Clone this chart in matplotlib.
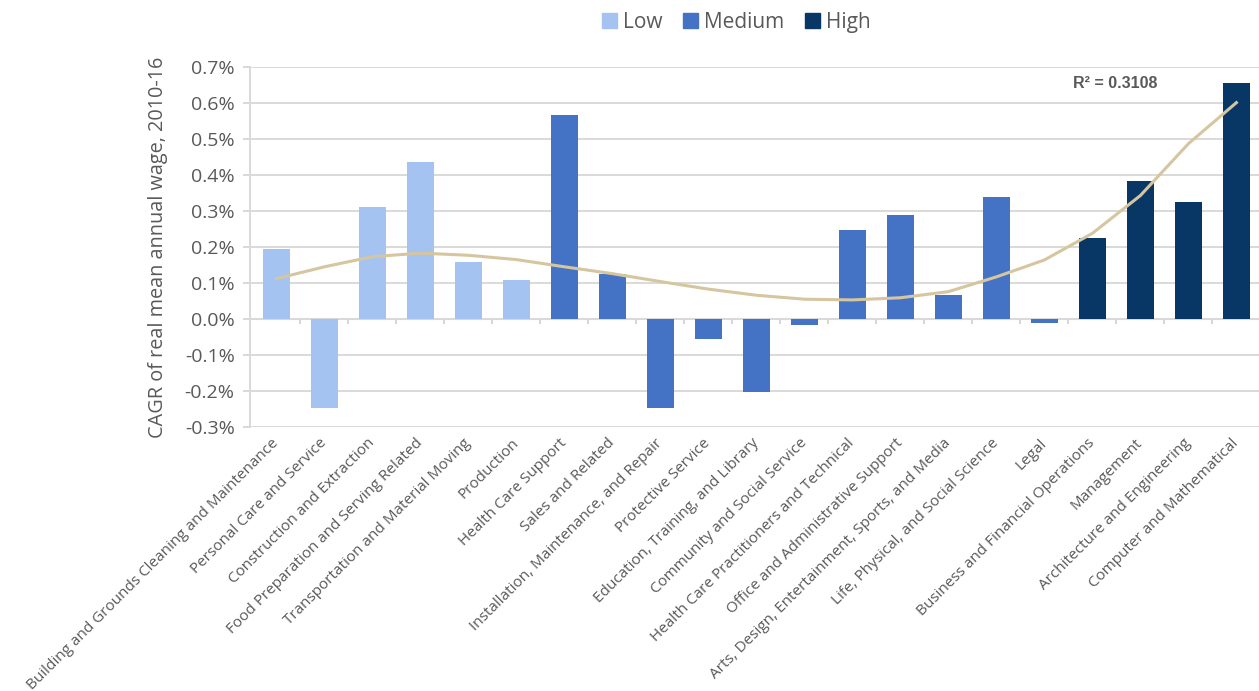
import matplotlib
matplotlib.use("Agg")
import matplotlib.pyplot as plt
from matplotlib.patches import Patch
import numpy as np

plt.rcParams["font.family"] = ["Open Sans", "DejaVu Sans"]

# ── data (CAGR of real mean annual wage, %, 2010-16) ─────────────────────────
occupations = [
    "Building and Grounds Cleaning and Maintenance",
    "Personal Care and Service",
    "Construction and Extraction",
    "Food Preparation and Serving Related",
    "Transportation and Material Moving",
    "Production",
    "Health Care Support",
    "Sales and Related",
    "Installation, Maintenance, and Repair",
    "Protective Service",
    "Education, Training, and Library",
    "Community and Social Service",
    "Health Care Practitioners and Technical",
    "Office and Administrative Support",
    "Arts, Design, Entertainment, Sports, and Media",
    "Life, Physical, and Social Science",
    "Legal",
    "Business and Financial Operations",
    "Management",
    "Architecture and Engineering",
    "Computer and Mathematical",
]
cagr = [0.195, -0.248, 0.310, 0.435, 0.157, 0.109, 0.568, 0.125, -0.247, -0.056,
        -0.204, -0.016, 0.247, 0.290, 0.066, 0.338, -0.012, 0.226, 0.382, 0.326, 0.655]
skill = ["Low"] * 6 + ["Medium"] * 11 + ["High"] * 4
trend = [0.112, 0.145, 0.173, 0.183, 0.177, 0.165, 0.145, 0.126, 0.104, 0.083,
         0.066, 0.055, 0.053, 0.059, 0.076, 0.117, 0.164, 0.238, 0.343, 0.487, 0.601]
r_squared = "R² = 0.3108"

colors = {"Low": "#A4C3F1", "Medium": "#4472C4", "High": "#083766"}
grid_c = "#D9D9D9"
text_c = "#595959"

fig = plt.figure(figsize=(12.59, 6.91), dpi=100)
ax = fig.add_axes([250 / 1259, 264 / 691, 1009 / 1259, 360 / 691])

x = np.arange(len(occupations))
ax.bar(x, cagr, width=0.56, color=[colors[s] for s in skill], zorder=2)
ax.plot(x, trend, color="#D5C6A0", lw=2.2, zorder=3)

# zero line with category separators
ax.axhline(0, color=grid_c, lw=1.5, zorder=1)
ax.vlines(x[:-1] + 0.5, -0.015, 0, color=grid_c, lw=1.5, zorder=1)

ax.set_xlim(-0.55, -0.55 + 1009 / 48)
ax.set_ylim(-0.3, 0.7)
ax.set_yticks(np.arange(-0.3, 0.71, 0.1))
ax.set_yticklabels([f"{v:.1f}%" for v in np.arange(-0.3, 0.71, 0.1)],
                   fontsize=14, color=text_c)
ax.yaxis.grid(True, color=grid_c, lw=1.4, zorder=0)
ax.set_axisbelow(True)
ax.tick_params(axis="y", length=5, color=grid_c, width=1.4, pad=6)

ax.set_xticks(x)
ax.set_xticklabels(occupations, rotation=45, ha="right", va="center",
                   rotation_mode="anchor", fontsize=11, color=text_c)
ax.tick_params(axis="x", length=0, pad=10)

for side in ["top", "right", "bottom"]:
    ax.spines[side].set_visible(False)
ax.spines["left"].set_color(grid_c)
ax.spines["left"].set_linewidth(1.4)

ax.set_ylabel("CAGR of real mean annual wage, 2010-16", fontsize=14.3,
              color=text_c, labelpad=12)

ax.text(16.6, 0.653, r_squared, fontsize=11.5, fontweight="bold", color=text_c,
        family=["Liberation Sans", "DejaVu Sans"], va="center", ha="left")

handles = [Patch(color=colors[k]) for k in ["Low", "Medium", "High"]]
fig.legend(handles, ["Low", "Medium", "High"], loc="center",
           bbox_to_anchor=(0.585, 0.968), ncol=3, frameon=False, fontsize=15,
           handlelength=0.7, handleheight=0.7, handletextpad=0.3,
           columnspacing=1.0, labelcolor=text_c)

fig.savefig("out.png", dpi=100)
